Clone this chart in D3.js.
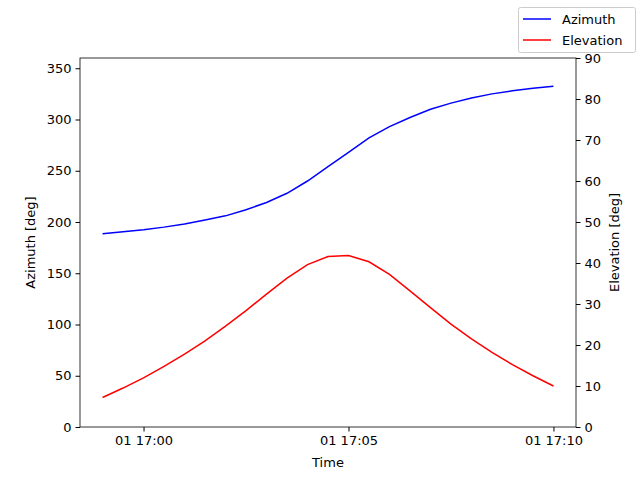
<!DOCTYPE html>
<html><head><meta charset="utf-8">
<script src="https://cdn.jsdelivr.net/npm/d3@7"></script>
<style>body{margin:0;background:#fff}text{font-family:"DejaVu Sans",sans-serif}</style>
</head><body><svg id="c" width="640" height="480"></svg>
<script>
const startTime = new Date(2024, 0, 1, 16, 59, 0);
const stepSeconds = 30;
const azimuth = [188.5, 190.5, 192.5, 195, 198, 202, 206, 212, 219, 228, 240, 254, 268, 282, 293, 302, 310, 316, 321, 325, 328, 330.5, 332.5];
const elevation = [7.2, 9.5, 12, 14.8, 17.8, 21, 24.6, 28.4, 32.4, 36.3, 39.6, 41.6, 41.8, 40.3, 37.2, 33.2, 29.1, 25.1, 21.5, 18.2, 15.2, 12.5, 10.0];
const times = azimuth.map((d, i) => new Date(startTime.getTime() + i * stepSeconds * 1000));
const leftTicks = [0, 50, 100, 150, 200, 250, 300, 350];
const rightTicks = [0, 10, 20, 30, 40, 50, 60, 70, 80, 90];
const timeTicks = [new Date(2024, 0, 1, 17, 0), new Date(2024, 0, 1, 17, 5), new Date(2024, 0, 1, 17, 10)];

const L = 80, R = 576, T = 58, B = 427;
const FS = 13;
const svg = d3.select("#c");
const span = times[times.length - 1] - times[0];
const x = d3.scaleTime()
  .domain([new Date(+times[0] - span * 0.05), new Date(+times[times.length - 1] + span * 0.05)])
  .range([L, R]);
const yL = d3.scaleLinear().domain([0, 360]).range([B, T]);
const yR = d3.scaleLinear().domain([0, 90]).range([B, T]);

function style(g) {
  g.selectAll("text").attr("font-size", FS).attr("fill", "#000");
  g.select(".domain").remove();
  g.selectAll("line").attr("stroke", "#000");
}
svg.append("g").attr("transform", `translate(0,${B})`)
  .call(d3.axisBottom(x).tickValues(timeTicks).tickFormat(d3.timeFormat("%d %H:%M")).tickSize(4.5).tickPadding(4)).call(style);
svg.append("g").attr("transform", `translate(${L},0)`)
  .call(d3.axisLeft(yL).tickValues(leftTicks).tickSize(4.5).tickPadding(4)).call(style);
svg.append("g").attr("transform", `translate(${R},0)`)
  .call(d3.axisRight(yR).tickValues(rightTicks).tickSize(4.5).tickPadding(4)).call(style);

svg.append("rect").attr("x", L).attr("y", T).attr("width", R - L).attr("height", B - T)
  .attr("fill", "none").attr("stroke", "#000").attr("stroke-width", 0.8);

svg.append("path").datum(azimuth).attr("fill", "none").attr("stroke", "blue").attr("stroke-width", 1.5)
  .attr("d", d3.line().x((d, i) => x(times[i])).y(d => yL(d)));
svg.append("path").datum(elevation).attr("fill", "none").attr("stroke", "red").attr("stroke-width", 1.5)
  .attr("d", d3.line().x((d, i) => x(times[i])).y(d => yR(d)));

svg.append("text").attr("x", (L + R) / 2).attr("y", 467).attr("text-anchor", "middle").attr("font-size", FS).text("Time");
svg.append("text").attr("transform", `translate(35,${(T + B) / 2}) rotate(-90)`).attr("text-anchor", "middle").attr("font-size", FS).text("Azimuth [deg]");
svg.append("text").attr("transform", `translate(619,${(T + B) / 2}) rotate(-90)`).attr("text-anchor", "middle").attr("font-size", FS).text("Elevation [deg]");

const lg = svg.append("g");
lg.append("rect").attr("x", 518.5).attr("y", 7.5).attr("width", 117).attr("height", 45).attr("rx", 2)
  .attr("fill", "#fff").attr("stroke", "#ccc");
[["Azimuth", "blue"], ["Elevation", "red"]].forEach(([name, col], i) => {
  const yy = 19 + i * 21;
  lg.append("line").attr("x1", 523).attr("x2", 551).attr("y1", yy).attr("y2", yy).attr("stroke", col).attr("stroke-width", 1.5);
  lg.append("text").attr("x", 562).attr("y", yy + 4.5).attr("font-size", FS).text(name);
});
</script></body></html>
